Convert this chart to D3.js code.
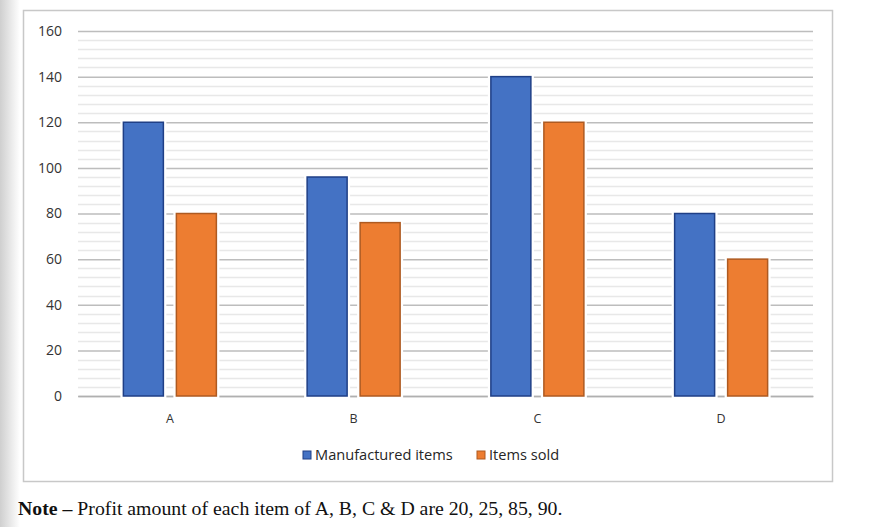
<!DOCTYPE html>
<html>
<head>
<meta charset="utf-8">
<script src="https://cdn.jsdelivr.net/npm/d3@7"></script>
<style>
	body { margin: 0; background: #fff; }
	svg text { font-family: 'Open Sans', 'Noto Sans', sans-serif; }
</style>
</head>
<body>
<div id="chart"></div>
<script>
// chart data
var categories = ['A', 'B', 'C', 'D'];
var manufactured = [120, 96, 140, 80];
var sold = [80, 76, 120, 60];
var seriesNames = ['Manufactured items', 'Items sold'];
var yTicks = [0, 20, 40, 60, 80, 100, 120, 140, 160];
var noteBold = 'Note \u2013';
var noteText = ' Profit amount of each item of A, B, C & D are 20, 25, 85, 90.';

const W = 876, H = 527;
const MARGIN = { TOP: 31, LEFT: 78, RIGHT: 63, BOTTOM: 131 };
const WIDTH = W - MARGIN.LEFT - MARGIN.RIGHT;
const HEIGHT = H - MARGIN.TOP - MARGIN.BOTTOM;
const COLORS = ['#4472c4', '#ed7d31'];
const BORDERS = ['#1f3f86', '#ae5a21'];
const GROUP = 93;

var svg = d3.select('#chart').append('svg')
	.attr('width', W)
	.attr('height', H);

// grey page shadow on the left
var grad = svg.append('defs').append('linearGradient')
	.attr('id', 'shade').attr('x1', 0).attr('x2', 1);
grad.append('stop').attr('offset', 0).attr('stop-color', '#cfcfcf');
grad.append('stop').attr('offset', 1).attr('stop-color', '#ffffff');
svg.append('rect').attr('x', 0).attr('y', 0).attr('width', 20).attr('height', H).attr('fill', 'url(#shade)');

// chart frame
svg.append('rect')
	.attr('x', 23.5).attr('y', 10.5)
	.attr('width', 809).attr('height', 471)
	.attr('fill', '#fff')
	.attr('stroke', '#c8c8c8')
	.attr('stroke-width', 1.5);

var g = svg.append('g')
	.attr('transform', 'translate(' + MARGIN.LEFT + ',' + MARGIN.TOP + ')');

var y = d3.scaleLinear().domain([0, 160]).range([HEIGHT, 0]);
var x0 = d3.scaleBand().domain(categories).range([0, WIDTH]);
var x1 = d3.scaleBand().domain([0, 1]).range([0, GROUP]).paddingInner(0.2453);

// minor gridlines every 4
g.append('g').selectAll('line')
	.data(d3.range(0, 161, 4).filter(function (v) { return v % 20 !== 0; }))
	.enter().append('line')
	.attr('x1', 0).attr('x2', WIDTH)
	.attr('y1', function (d) { return Math.round(y(d)) + 0.5; })
	.attr('y2', function (d) { return Math.round(y(d)) + 0.5; })
	.attr('stroke', '#e8e8e8')
	.attr('stroke-width', 1.5);

// y axis with major gridlines
var yAxis = d3.axisLeft(y).tickValues(yTicks).tickSize(-WIDTH).tickPadding(16);
var ya = g.append('g').attr('class', 'y axis').call(yAxis);
ya.select('.domain').remove();
ya.selectAll('line').attr('stroke', '#bdbdbd').attr('stroke-width', 1.5);
ya.selectAll('text').attr('fill', '#333').style('font-size', '14px');

// x axis labels
var xAxis = d3.axisBottom(x0).tickSize(0).tickPadding(18);
var xa = g.append('g').attr('class', 'x axis')
	.attr('transform', 'translate(0,' + HEIGHT + ')')
	.call(xAxis);
xa.select('.domain').attr('stroke', '#b0b0b0').attr('stroke-width', 1.5);
xa.selectAll('text').attr('fill', '#333').style('font-size', '12.5px');

function barX (i, s) {
	return x0(categories[i]) + x0.bandwidth() / 2 - GROUP / 2 + x1(s);
}

// bars
[manufactured, sold].forEach(function (vals, s) {
	var bars = g.append('g').selectAll('rect').data(vals).enter();
	bars.append('rect')
		.attr('x', function (d, i) { return barX(i, s); })
		.attr('y', function (d) { return y(d); })
		.attr('width', x1.bandwidth())
		.attr('height', function (d) { return HEIGHT - y(d); })
		.attr('fill', 'none')
		.attr('stroke', '#fff')
		.attr('stroke-width', 6);
	bars.append('rect')
		.attr('x', function (d, i) { return barX(i, s); })
		.attr('y', function (d) { return y(d); })
		.attr('width', x1.bandwidth())
		.attr('height', function (d) { return HEIGHT - y(d); })
		.attr('fill', COLORS[s])
		.attr('stroke', BORDERS[s])
		.attr('stroke-width', 1.5);
});

// legend
var legend = svg.append('g').attr('transform', 'translate(303,455)');
var lx = [0, 174];
seriesNames.forEach(function (name, i) {
	legend.append('rect')
		.attr('x', lx[i]).attr('y', -4)
		.attr('width', 8).attr('height', 8)
		.attr('fill', COLORS[i])
		.attr('stroke', BORDERS[i]);
	legend.append('text')
		.attr('x', lx[i] + 12).attr('y', 5)
		.attr('fill', '#262626')
		.style('font-size', '14.6px')
		.text(name);
});

// note
var note = svg.append('text')
	.attr('x', 18).attr('y', 515)
	.attr('fill', '#111')
	.style('font-family', "'Liberation Serif', 'DejaVu Serif', serif")
	.style('font-size', '19.8px');
note.append('tspan').attr('font-weight', 'bold').text(noteBold);
note.append('tspan').text(noteText);
</script>
</body>
</html>
